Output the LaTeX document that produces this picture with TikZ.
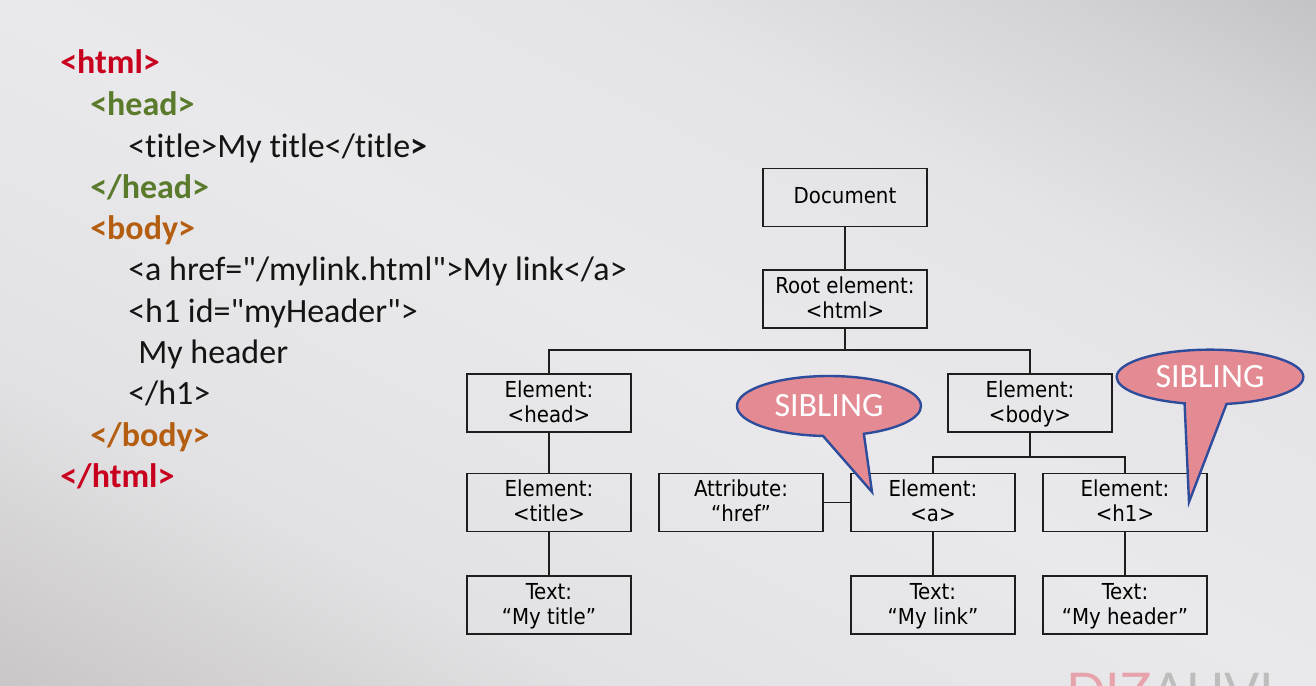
\documentclass[tikz,border=0pt]{standalone}
\usepackage{fontspec}
\setmainfont{Carlito}[Ligatures={TeXOff,NoCommon}]
\newfontfamily\boxfont{DejaVu Sans Condensed}
\newfontfamily\markfont{Lato}
\usetikzlibrary{shapes.callouts}

\definecolor{tagred}{HTML}{C8001E}
\definecolor{taggreen}{HTML}{5A7A2C}
\definecolor{tagbrown}{HTML}{B45E12}
\definecolor{codeink}{HTML}{141414}
\definecolor{boxline}{HTML}{1E1E1E}
\definecolor{calloutpink}{HTML}{E38A93}
\definecolor{calloutblue}{HTML}{2E4C9C}
\definecolor{markpink}{HTML}{E7A3AB}
\definecolor{markgrey}{HTML}{BDBDBD}
\definecolor{bg0}{HTML}{BAB7B7}
\definecolor{bg1}{HTML}{C2BFBF}
\definecolor{bg2}{HTML}{D2D0D1}
\definecolor{bg3}{HTML}{E2E2E4}
\definecolor{bg4}{HTML}{E9E9EB}
\definecolor{bg5}{HTML}{E4E4E6}
\definecolor{bg6}{HTML}{D3D3D5}
\definecolor{bg7}{HTML}{B5B5B7}
\definecolor{bg8}{HTML}{ABABAD}

% diagonal backdrop: greyer toward the lower left and upper right corners
\pgfdeclarehorizontalshading{bgshade}{100bp}{%
  color(0bp)=(bg0); color(12bp)=(bg1); color(22bp)=(bg2); color(32bp)=(bg3);
  color(50bp)=(bg4); color(66bp)=(bg5); color(77bp)=(bg6); color(90bp)=(bg7);
  color(100bp)=(bg8)}

\begin{document}
\begin{tikzpicture}[x=0.75pt, y=-0.75pt,
  code/.style={anchor=base west, inner sep=0pt, text=codeink,
    font=\fontsize{25.5}{30}\selectfont},
  tag/.style={code, font=\bfseries\fontsize{25.5}{30}\selectfont},
  dombox/.style={draw=boxline, line width=1.3pt, minimum width=123pt,
    minimum height=43.5pt, inner xsep=2pt, inner ysep=0pt, align=center,
    text=black, font=\boxfont\fontsize{16.5}{18.75}\selectfont,
    text height=36pt, text depth=7.5pt},
  onebox/.style={dombox, text height=25.5pt, text depth=17.25pt},
  link/.style={draw=boxline, line width=1.3pt},
  sibling/.style={ellipse callout, draw=calloutblue, line width=1.8pt,
    fill=calloutpink, text=white, inner sep=0pt, callout pointer arc=26,
    font=\fontsize{25.5}{30}\selectfont}]

\useasboundingbox (0,0) rectangle (1316,685);
\shade[shading=bgshade, shading angle=62.5] (0,0) rectangle (1316,685);

% ---------- HTML source ----------
\node[tag, text=tagred]    (l1)  at (60,74)   {<html>};
\node[tag, text=taggreen]  (l2)  at (90,115)  {<head>};
\node[code]                (l3)  at (128,157) {<title>My title</title\textbf{>}};
\node[tag, text=taggreen]  (l4)  at (90,198)  {</head>};
\node[tag, text=tagbrown]  (l5)  at (90,239)  {<body>};
\node[code]                (l6)  at (128,280) {<a href="/mylink.html">My link</a>};
\node[code]                (l7)  at (128,322) {<h1 id="myHeader">};
\node[code]                (l8)  at (138,363) {My header};
\node[code]                (l9)  at (128,404) {</h1>};
\node[tag, text=tagbrown]  (l10) at (90,446)  {</body>};
\node[tag, text=tagred]    (l11) at (60,487)  {</html>};

% ---------- DOM tree ----------
\node[onebox] (doc)     at (845,197.5) {Document};
\node[dombox] (root)    at (845,299)   {Root element:\\<html>};
\node[dombox] (head)    at (549,403)   {Element:\\<head>};
\node[dombox] (body)    at (1030,403)  {Element:\\<body>};
\node[dombox] (title)   at (549,502.5) {Element:\\<title>};
\node[dombox] (attr)    at (741,502.5) {Attribute:\\“href”};
\node[dombox] (a)       at (933,502.5) {Element:\\<a>};
\node[dombox] (h1)      at (1125,502.5){Element:\\<h1>};
\node[dombox] (ttitle)  at (549,605)   {Text:\\“My title”};
\node[dombox] (tlink)   at (933,605)   {Text:\\“My link”};
\node[dombox] (theader) at (1125,605)  {Text:\\“My header”};

\draw[link] (doc) -- (root);
\draw[link] (root.south) -- ++(0,21) -| (head.north);
\draw[link] (root.south) -- ++(0,21) -| (body.north);
\draw[link] (head) -- (title);
\draw[link] (title) -- (ttitle);
\draw[link] (body.south) -- ++(0,24) -| (a.north);
\draw[link] (body.south) -- ++(0,24) -| (h1.north);
\draw[link] (attr) -- (a);
\draw[link] (a) -- (tlink);
\draw[link] (h1) -- (theader);

% ---------- callouts ----------
\coordinate (tip1) at (872,492);
\coordinate (tip2) at (1189,502);
\node[sibling, minimum width=138pt, minimum height=45pt,
  callout absolute pointer={(tip1)}] (sib1) at (829,406) {SIBLING};
\node[sibling, minimum width=140pt, minimum height=41pt,
  callout absolute pointer={(tip2)}] (sib2) at (1210,377) {SIBLING};

% ---------- logo at the lower edge ----------
\begin{scope}
  \clip (0,0) rectangle (1316,685);
  \node[anchor=north west, inner sep=0pt,
    font=\markfont\fontsize{39}{42}\selectfont] (mark) at (1066,673)
    {\textcolor{markpink}{DIZ}\textcolor{markgrey}{AUVI}};
\end{scope}
\end{tikzpicture}
\end{document}
